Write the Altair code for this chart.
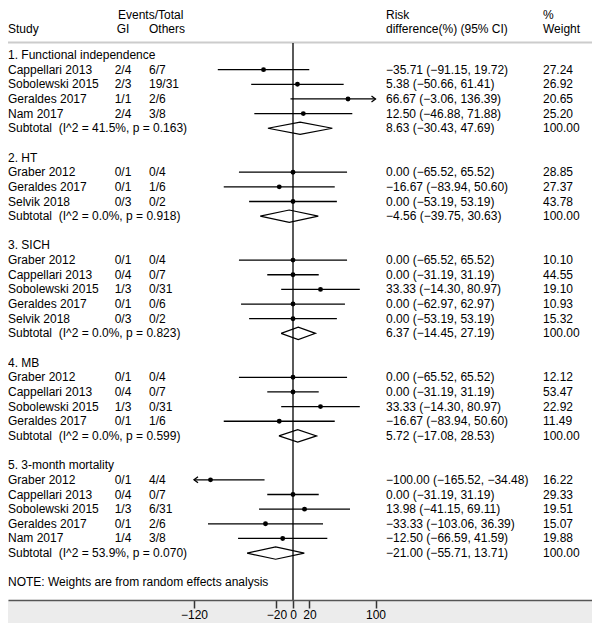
import altair as alt
import pandas as pd

FONT = "Liberation Sans"

# ---------------- data ----------------
group_titles = ["1. Functional independence", "2. HT", "3. SICH", "4. MB", "5. 3-month mortality"]

study_group = [0, 0, 0, 0,
               1, 1, 1,
               2, 2, 2, 2, 2,
               3, 3, 3, 3,
               4, 4, 4, 4, 4]
study_names = ["Cappellari 2013", "Sobolewski 2015", "Geraldes 2017", "Nam 2017",
               "Graber 2012", "Geraldes 2017", "Selvik 2018",
               "Graber 2012", "Cappellari 2013", "Sobolewski 2015", "Geraldes 2017", "Selvik 2018",
               "Graber 2012", "Cappellari 2013", "Sobolewski 2015", "Geraldes 2017",
               "Graber 2012", "Cappellari 2013", "Sobolewski 2015", "Geraldes 2017", "Nam 2017"]
gi_events = ["2/4", "2/3", "1/1", "2/4",
             "0/1", "0/1", "0/3",
             "0/1", "0/4", "1/3", "0/1", "0/3",
             "0/1", "0/4", "1/3", "0/1",
             "0/1", "0/4", "1/3", "0/1", "1/4"]
others_events = ["6/7", "19/31", "2/6", "3/8",
                 "0/4", "1/6", "0/2",
                 "0/4", "0/7", "0/31", "0/6", "0/2",
                 "0/4", "0/7", "0/31", "1/6",
                 "4/4", "0/7", "6/31", "2/6", "3/8"]
study_est = [-35.71, 5.38, 66.67, 12.50,
             0.00, -16.67, 0.00,
             0.00, 0.00, 33.33, 0.00, 0.00,
             0.00, 0.00, 33.33, -16.67,
             -100.00, 0.00, 13.98, -33.33, -12.50]
study_lo = [-91.15, -50.66, -3.06, -46.88,
            -65.52, -83.94, -53.19,
            -65.52, -31.19, -14.30, -62.97, -53.19,
            -65.52, -31.19, -14.30, -83.94,
            -165.52, -31.19, -41.15, -103.06, -66.59]
study_hi = [19.72, 61.41, 136.39, 71.88,
            65.52, 50.60, 53.19,
            65.52, 31.19, 80.97, 62.97, 53.19,
            65.52, 31.19, 80.97, 50.60,
            -34.48, 31.19, 69.11, 36.39, 41.59]
study_weight = [27.24, 26.92, 20.65, 25.20,
                28.85, 27.37, 43.78,
                10.10, 44.55, 19.10, 10.93, 15.32,
                12.12, 53.47, 22.92, 11.49,
                16.22, 29.33, 19.51, 15.07, 19.88]

subtotal_het = ["I^2 = 41.5%, p = 0.163", "I^2 = 0.0%, p = 0.918", "I^2 = 0.0%, p = 0.823",
                "I^2 = 0.0%, p = 0.599", "I^2 = 53.9%, p = 0.070"]
subtotal_est = [8.63, -4.56, 6.37, 5.72, -21.00]
subtotal_lo = [-30.43, -39.75, -14.45, -17.08, -55.71]
subtotal_hi = [47.69, 30.63, 27.19, 28.53, 13.71]
subtotal_weight = [100.00, 100.00, 100.00, 100.00, 100.00]

axis_ticks = [-120, -20, 0, 20, 100]
clip_lo, clip_hi = -120, 100
note_text = "NOTE: Weights are from random effects analysis"

# ---------------- tables ----------------
def fmt(v):
    return f"{v:.2f}".replace("-", "\u2212")

label_rows, study_rows, diamond_rows = [], [], []
r = 0
for g, title in enumerate(group_titles):
    label_rows.append({"row": r, "label": title})
    r += 1
    for i, sg in enumerate(study_group):
        if sg != g:
            continue
        lo, hi = study_lo[i], study_hi[i]
        study_rows.append({
            "row": r, "est": study_est[i],
            "lo_c": max(lo, clip_lo), "hi_c": min(hi, clip_hi),
            "arrow_l": lo < clip_lo, "arrow_r": hi > clip_hi,
        })
        label_rows.append({"row": r, "label": study_names[i], "gi": gi_events[i],
                           "oth": others_events[i],
                           "ci": f"{fmt(study_est[i])} ({fmt(lo)}, {fmt(hi)})",
                           "w": f"{study_weight[i]:.2f}"})
        r += 1
    label_rows.append({"row": r, "label": "Subtotal\u00a0\u00a0(" + subtotal_het[g] + ")",
                       "ci": f"{fmt(subtotal_est[g])} ({fmt(subtotal_lo[g])}, {fmt(subtotal_hi[g])})",
                       "w": f"{subtotal_weight[g]:.2f}"})
    pts = [(subtotal_lo[g], 0), (subtotal_est[g], -0.42), (subtotal_hi[g], 0),
           (subtotal_est[g], 0.42), (subtotal_lo[g], 0)]
    for k, (xv, dy) in enumerate(pts):
        diamond_rows.append({"g": g, "k": k, "x": xv, "y": r + dy})
    r += 1
    r += 1  # blank line
label_rows.append({"row": r, "label": note_text})

labels = pd.DataFrame(label_rows)
studies = pd.DataFrame(study_rows)
diamonds = pd.DataFrame(diamond_rows)
arrows_r = studies[studies["arrow_r"]].copy()
arrows_r["tip"] = clip_hi
arrows_l = studies[studies["arrow_l"]].copy()
arrows_l["tip"] = clip_lo

H1, H2 = -2.73, -1.76
headers = pd.DataFrame([
    {"row": H1, "txt": "Events/Total", "col": "ev"},
    {"row": H2, "txt": "Study", "col": "study"},
    {"row": H2, "txt": "GI", "col": "gi"},
    {"row": H2, "txt": "Others", "col": "oth"},
    {"row": H1, "txt": "Risk", "col": "ci"},
    {"row": H2, "txt": "difference(%) (95% CI)", "col": "ci"},
    {"row": H1, "txt": "%", "col": "w"},
    {"row": H2, "txt": "Weight", "col": "w"},
])

# ---------------- chart ----------------
W, H = 584, 592
PB = 23
ROW0, ROWH = 47.0, 14.65
xs = alt.Scale(domain=[-345.45, 362.42], nice=False, zero=False)
ys = alt.Scale(domain=[-ROW0 / ROWH, (H - ROW0) / ROWH], nice=False, zero=False, reverse=True)
X = lambda f: alt.X(f, type="quantitative", scale=xs,
                    axis=alt.Axis(values=axis_ticks, title=None, grid=False, tickSize=8,
                                  labelPadding=1, labelFontSize=12, labelFont=FONT,
                                  labelColor="black", domainColor="#555555", tickColor="#333333",
                                  domainWidth=1.5, tickWidth=1.5, labelFlush=False, zindex=1))
Y = lambda f: alt.Y(f, type="quantitative", scale=ys, axis=None)

one = pd.DataFrame({"a": [0]})

band = alt.Chart(one).mark_rect(color="#ececec").encode(
    x=alt.value(0), x2=alt.value(W), y=alt.value(H), y2=alt.value(H + PB))
sep = alt.Chart(one).mark_rule(color="#cccccc", strokeWidth=2).encode(
    x=alt.value(0), x2=alt.value(W), y=alt.value(34.5))
zero = alt.Chart(one).mark_rule(color="black", strokeWidth=1.3).encode(
    x=alt.datum(0, scale=xs), y=alt.value(35), y2=alt.value(H))

ci = alt.Chart(studies).mark_rule(color="black", strokeWidth=1.3).encode(
    x=X("lo_c"), x2="hi_c", y=Y("row"))
dots = alt.Chart(studies).mark_circle(color="black", size=24, opacity=1).encode(
    x=X("est"), y=Y("row"))
arr_r = alt.Chart(arrows_r).mark_point(shape="M-1,-0.75L0,0L-1,0.75", filled=False,
                                      color="black", strokeWidth=1.3, size=64, opacity=1).encode(
    x=X("tip"), y=Y("row"))
arr_l = alt.Chart(arrows_l).mark_point(shape="M1,-0.75L0,0L1,0.75", filled=False,
                                      color="black", strokeWidth=1.3, size=64, opacity=1).encode(
    x=X("tip"), y=Y("row"))
dia = alt.Chart(diamonds).mark_line(color="black", strokeWidth=1.2, strokeJoin="miter").encode(
    x=X("x"), y=Y("y"), detail="g:N", order="k:Q")

def txt(df, field, xpx, align="left"):
    return alt.Chart(df).mark_text(align=align, baseline="middle", font=FONT, fontSize=12,
                                   color="black").encode(
        x=alt.value(xpx), y=Y("row"), text=f"{field}:N")

lab_study = txt(labels, "label", 0)
lab_gi = txt(labels.dropna(subset=["gi"]), "gi", 115, "center")
lab_oth = txt(labels.dropna(subset=["oth"]), "oth", 141)
lab_ci = txt(labels.dropna(subset=["ci"]), "ci", 378)
lab_w = txt(labels.dropna(subset=["w"]), "w", 535)

hdr = []
for col, xpx, al in [("ev", 110, "left"), ("study", 0, "left"), ("gi", 115, "center"),
                     ("oth", 141, "left"), ("ci", 378, "left"), ("w", 535, "left")]:
    hdr.append(txt(headers[headers["col"] == col], "txt", xpx, al))

chart = alt.layer(band, sep, zero, ci, dots, arr_r, arr_l, dia,
                  lab_study, lab_gi, lab_oth, lab_ci, lab_w, *hdr).properties(
    width=W, height=H,
    autosize=alt.AutoSizeParams(type="none"),
    padding={"left": 0, "top": 0, "right": 0, "bottom": PB},
).configure_view(stroke=None)

chart.save("out.html", embed_options={"renderer": "svg", "actions": False})
